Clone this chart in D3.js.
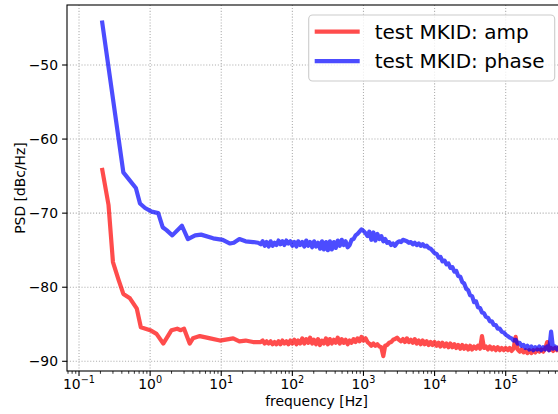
<!DOCTYPE html>
<html>
<head>
<meta charset="utf-8">
<script src="https://cdn.jsdelivr.net/npm/d3@7"></script>
<style>
  body { margin: 0; background: #fff; }
  text { font-family: "DejaVu Sans", sans-serif; }
</style>
</head>
<body>
<script>
  // low-frequency part of each spectrum
  const ampLowFreq = [0.21, 0.26, 0.30, 0.36, 0.42, 0.52, 0.65, 0.74, 1.0, 1.23, 1.53, 2.0, 2.4, 2.7, 3.0, 3.6, 4.0, 5.0, 7.0, 9.6,
    14.7, 18, 22, 28, 33];
  const ampLowDb = [-63.9, -68.9, -76.6, -79.0, -80.9, -81.5, -82.9, -85.4, -85.8, -86.3, -87.6, -85.8, -85.6, -85.8, -85.6, -87.6, -86.9, -86.6, -86.9, -87.2,
    -86.9, -87.3, -87.2, -87.4, -87.4];
  const phaseLowFreq = [0.21, 0.42, 0.52, 0.63, 0.72, 0.85, 1.05, 1.3, 1.5, 1.7, 2.05, 2.8, 3.4, 4.3, 5.2, 7.7, 10.5, 13.3, 15, 18,
    22, 28, 33];
  const phaseLowDb = [-44.0, -64.5, -65.6, -66.6, -68.7, -69.3, -69.8, -70.0, -71.9, -72.3, -73.0, -71.7, -73.5, -73.0, -72.9, -73.4, -73.6, -74.1, -74.0, -73.5,
    -73.8, -73.9, -74.0];

  // shared frequency bins of the noisy part
  const binFreq = [35.9, 38.3, 40.8, 43.5, 46.4, 49.5, 52.7, 56.2, 59.9, 63.9, 68.1, 72.6, 77.4, 82.5, 88.0, 93.8,
    100, 107, 114, 121, 129, 138, 147, 157, 167, 178, 190, 202, 215, 230, 245, 261, 278, 297, 316, 337, 359, 383, 408, 435, 464, 495, 527, 562, 599, 639, 681, 726, 774, 825, 880, 938,
    1000, 1070, 1140, 1210, 1290, 1380, 1470, 1570, 1670, 1780, 1900, 2020, 2150, 2300, 2450, 2610, 2780, 2970, 3160, 3370, 3590, 3830, 4080, 4350, 4640, 4950, 5270, 5620, 5990, 6390, 6810, 7260, 7740, 8250, 8800, 9380,
    10000, 10700, 11400, 12100, 12900, 13800, 14700, 15700, 16700, 17800, 19000, 20200, 21500, 23000, 24500, 26100, 27800, 29700, 31600, 33700, 35900, 38300, 40800, 43500, 46400, 49500, 52700, 56200, 59900, 63900, 68100, 72600, 77400, 82500, 88000, 93800,
    100000, 107000, 114000, 121000, 129000, 138000, 147000, 157000, 167000, 178000, 190000, 202000, 215000, 230000, 245000, 261000, 278000, 297000, 316000, 337000, 359000, 383000, 408000, 435000, 464000, 495000, 527000, 562000, 599000];

  const ampBinDb = [-87.4, -87.2, -87.6, -87.3, -87.6, -87.3, -87.7, -87.4, -87.7, -87.3, -87.7, -87.2, -87.6, -87.3, -87.7, -87.2,
    -87.6, -87.1, -87.7, -87.2, -87.6, -86.9, -87.6, -87.0, -87.5, -86.8, -87.6, -87.1, -87.7, -87.0, -87.8, -87.2, -87.6, -86.9, -87.7, -87.0, -87.6, -87.1, -87.5, -86.8, -87.6, -87.0, -87.5, -87.1, -87.7, -87.2, -87.5, -87.0, -87.4, -86.9, -87.3, -86.7,
    -87.2, -86.9, -87.4, -87.6, -87.9, -87.6, -87.9, -87.7, -88.0, -88.1, -89.3, -87.9, -87.8, -87.5, -87.4, -87.1, -87.0, -86.8, -87.1, -87.3, -87.0, -87.4, -86.9, -87.4, -87.1, -87.5, -87.0, -87.6, -87.2, -87.7, -87.2, -87.7, -87.3, -87.8, -87.4, -87.8,
    -87.4, -87.9, -87.5, -88.0, -87.5, -88.0, -87.6, -88.1, -87.6, -88.1, -87.7, -88.2, -87.8, -88.3, -87.8, -88.3, -87.9, -88.4, -87.9, -88.4, -88.0, -88.3, -87.9, -88.3, -86.6, -88.2, -88.0, -88.4, -88.0, -88.4, -88.1, -88.5, -88.1, -88.5, -88.2, -88.5,
    -88.2, -88.5, -88.2, -88.6, -88.3, -86.7, -88.4, -88.7, -88.4, -88.8, -88.5, -88.9, -88.5, -88.9, -88.5, -88.8, -88.4, -88.7, -88.4, -88.7, -88.3, -87.4, -88.5, -88.2, -88.6, -88.2, -88.5, -88.1, -88.4];

  const phaseBinDb = [-74.2, -73.8, -74.4, -73.9, -74.5, -73.8, -74.4, -74.0, -74.3, -73.7, -74.2, -73.8, -74.3, -73.7, -74.1, -73.8,
    -74.4, -73.9, -74.5, -73.8, -74.3, -73.9, -74.5, -73.7, -74.4, -73.9, -74.6, -73.8, -74.5, -74.0, -74.8, -73.8, -74.9, -73.9, -75.0, -73.8, -74.9, -73.9, -74.7, -73.7, -74.4, -73.6, -74.3, -73.8, -74.6, -74.3, -73.6, -73.5, -73.0, -72.8, -72.5, -72.2,
    -72.4, -72.7, -73.1, -72.5, -73.6, -72.6, -73.7, -72.8, -73.5, -73.1, -73.8, -73.5, -74.0, -73.9, -74.3, -74.1, -74.4, -74.0, -73.8, -73.9, -73.6, -73.7, -73.8, -74.0, -73.9, -74.2, -74.0, -74.3, -74.1, -74.4, -74.2, -74.5, -74.4, -74.7, -74.8, -75.1,
    -75.4, -75.5, -76.0, -75.9, -76.5, -76.4, -76.9, -76.8, -77.4, -77.3, -77.9, -77.8, -78.5, -78.6, -79.3, -79.5, -80.2, -80.4, -81.1, -81.2, -82.0, -81.9, -82.7, -82.8, -83.4, -83.5, -84.0, -84.1, -84.6, -84.6, -85.1, -85.1, -85.6, -85.6, -86.0, -86.1,
    -86.4, -86.6, -86.8, -86.9, -87.2, -87.1, -87.6, -87.5, -87.9, -87.8, -88.2, -87.9, -88.4, -88.0, -88.5, -88.1, -88.4, -88.0, -88.5, -88.1, -88.4, -88.0, -88.5, -86.0, -88.3, -88.0, -88.4, -88.1, -88.3];

  const xTickExps = [-1, 0, 1, 2, 3, 4, 5];
  const yTicks = [-90, -80, -70, -60, -50];
  const seriesNames = ["test MKID: amp", "test MKID: phase"];
  const seriesColors = ["#ff0000", "#0000ff"];

  const w = 558;
  const h = 414;
  const pLeft = 67, pRight = 566, pTop = 5, pBottom = 371;

  const x = d3.scaleLog()
              .domain([Math.pow(10, -1.169), Math.pow(10, 5.848)])
              .range([pLeft, pRight]);
  const y = d3.scaleLinear()
              .domain([-91.31, -41.9])
              .range([pBottom, pTop]);

  const svg = d3.select("body")
                .append("svg")
                .attr("width", w)
                .attr("height", h);

  // grid
  svg.selectAll("line.vgrid")
     .data(xTickExps)
     .enter()
     .append("line")
     .attr("x1", d => x(Math.pow(10, d)))
     .attr("x2", d => x(Math.pow(10, d)))
     .attr("y1", pTop)
     .attr("y2", pBottom)
     .attr("stroke", "#b0b0b0")
     .attr("stroke-width", 1.1)
     .attr("stroke-dasharray", "1.1,1.8");

  svg.selectAll("line.hgrid")
     .data(yTicks)
     .enter()
     .append("line")
     .attr("x1", pLeft)
     .attr("x2", pRight)
     .attr("y1", d => y(d))
     .attr("y2", d => y(d))
     .attr("stroke", "#b0b0b0")
     .attr("stroke-width", 1.1)
     .attr("stroke-dasharray", "1.1,1.8");

  // lines
  const line = d3.line()
                 .x(d => x(d[0]))
                 .y(d => y(d[1]));

  const series = [
    d3.zip(ampLowFreq.concat(binFreq), ampLowDb.concat(ampBinDb)),
    d3.zip(phaseLowFreq.concat(binFreq), phaseLowDb.concat(phaseBinDb))
  ];

  svg.append("clipPath")
     .attr("id", "plotclip")
     .append("rect")
     .attr("x", pLeft)
     .attr("y", pTop)
     .attr("width", pRight - pLeft)
     .attr("height", pBottom - pTop);

  svg.selectAll("path.series")
     .data(series)
     .enter()
     .append("path")
     .attr("d", line)
     .attr("clip-path", "url(#plotclip)")
     .attr("fill", "none")
     .attr("stroke", (d, i) => seriesColors[i])
     .attr("stroke-opacity", 0.7)
     .attr("stroke-width", 4.2)
     .attr("stroke-linejoin", "round");

  // minor x ticks
  const minor = [];
  for (let e = -2; e <= 5; e++) {
    for (let m = 2; m <= 9; m++) {
      const v = m * Math.pow(10, e);
      if (x(v) >= pLeft && x(v) <= pRight) minor.push(v);
    }
  }
  svg.selectAll("line.minor")
     .data(minor)
     .enter()
     .append("line")
     .attr("x1", d => x(d))
     .attr("x2", d => x(d))
     .attr("y1", pBottom)
     .attr("y2", pBottom + 2.8)
     .attr("stroke", "#000")
     .attr("stroke-width", 0.8);

  // major x ticks + labels
  svg.selectAll("line.xtick")
     .data(xTickExps)
     .enter()
     .append("line")
     .attr("x1", d => x(Math.pow(10, d)))
     .attr("x2", d => x(Math.pow(10, d)))
     .attr("y1", pBottom)
     .attr("y2", pBottom + 4.9)
     .attr("stroke", "#000")
     .attr("stroke-width", 1.1);

  const xl = svg.selectAll("text.xlab")
     .data(xTickExps)
     .enter()
     .append("text")
     .attr("x", d => x(Math.pow(10, d)))
     .attr("y", 389)
     .attr("text-anchor", "middle")
     .attr("font-size", 13.9)
     .attr("fill", "#000");
  xl.append("tspan").text("10");
  xl.append("tspan")
    .attr("dy", -6)
    .attr("font-size", 9.7)
    .text(d => d < 0 ? "\u2212" + (-d) : d);

  // y ticks + labels
  svg.selectAll("line.ytick")
     .data(yTicks)
     .enter()
     .append("line")
     .attr("x1", pLeft - 4.9)
     .attr("x2", pLeft)
     .attr("y1", d => y(d))
     .attr("y2", d => y(d))
     .attr("stroke", "#000")
     .attr("stroke-width", 1.1);

  svg.selectAll("text.ylab")
     .data(yTicks)
     .enter()
     .append("text")
     .attr("x", 58)
     .attr("y", d => y(d) + 5)
     .attr("text-anchor", "end")
     .attr("font-size", 13.9)
     .attr("fill", "#000")
     .text(d => "\u2212" + Math.abs(d));

  // spines
  svg.append("rect")
     .attr("x", pLeft)
     .attr("y", pTop)
     .attr("width", pRight - pLeft)
     .attr("height", pBottom - pTop)
     .attr("fill", "none")
     .attr("stroke", "#000")
     .attr("stroke-width", 1.1);

  // axis labels
  svg.append("text")
     .attr("x", (pLeft + pRight) / 2)
     .attr("y", 406)
     .attr("text-anchor", "middle")
     .attr("font-size", 13.9)
     .text("frequency [Hz]");

  svg.append("text")
     .attr("transform", "translate(25," + (pTop + pBottom) / 2 + ") rotate(-90)")
     .attr("text-anchor", "middle")
     .attr("font-size", 13.9)
     .text("PSD [dBc/Hz]");

  // legend
  const lg = svg.append("g");
  lg.append("rect")
    .attr("x", 308.7)
    .attr("y", 15)
    .attr("width", 246)
    .attr("height", 66)
    .attr("rx", 4)
    .attr("fill", "#fff")
    .attr("fill-opacity", 0.8)
    .attr("stroke", "#cccccc")
    .attr("stroke-width", 1.1);

  const rows = lg.selectAll("g.row")
     .data(seriesNames)
     .enter()
     .append("g");
  rows.append("line")
      .attr("x1", 314.7)
      .attr("x2", 359.7)
      .attr("y1", (d, i) => 31.7 + i * 29.4)
      .attr("y2", (d, i) => 31.7 + i * 29.4)
      .attr("stroke", (d, i) => seriesColors[i])
      .attr("stroke-opacity", 0.7)
      .attr("stroke-width", 4.2);
  rows.append("text")
      .attr("x", 374.7)
      .attr("y", (d, i) => 39 + i * 29.4)
      .attr("font-size", 20)
      .attr("fill", "#000")
      .text(d => d);
</script>
</body>
</html>
